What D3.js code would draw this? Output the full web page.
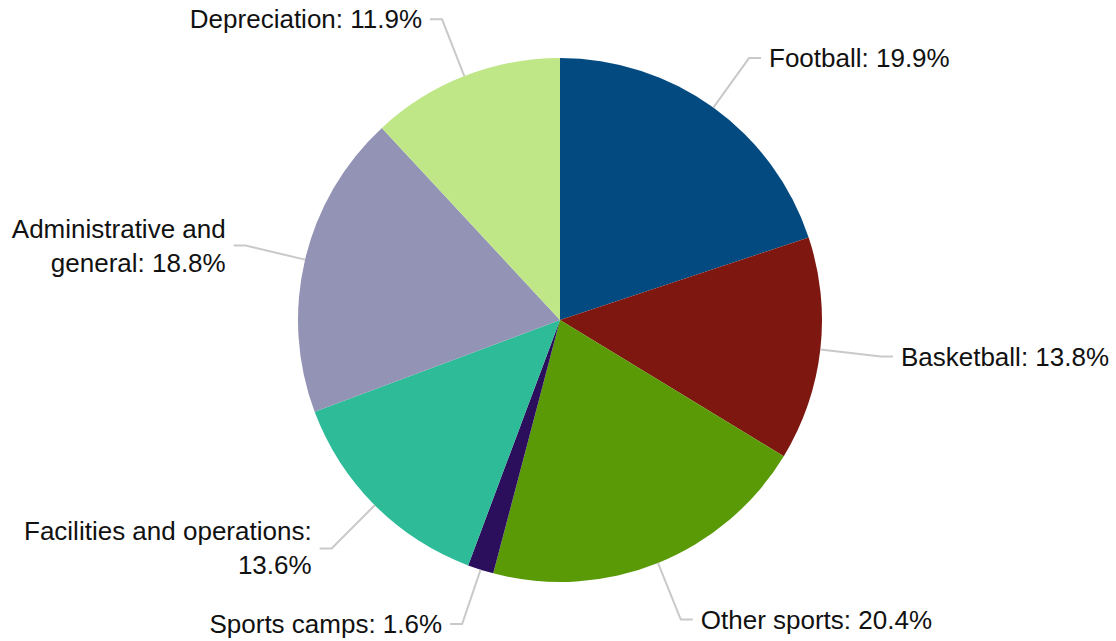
<!DOCTYPE html>
<html>
<head>
<meta charset="utf-8">
<script src="https://cdn.jsdelivr.net/npm/d3@7"></script>
<style>
  body { margin: 0; background: #fff; }
  svg text { font-family: "Liberation Sans", Arial, sans-serif; font-size: 26px; fill: #111; }
</style>
</head>
<body>
<div id="chart"></div>
<script>
const width = 1116;
const height = 641;
const radius = 262;
const cx = 560;
const cy = 320;

const categories = ["Football", "Basketball", "Other sports", "Sports camps",
  "Facilities and operations", "Administrative and general", "Depreciation"];
const values = [19.9, 13.8, 20.4, 1.6, 13.6, 18.8, 11.9];
const colors = ["#024a7f", "#7e1710", "#5a9a07", "#2b0f5d", "#2ebb97", "#9393b6", "#bfe787"];

const data = categories.map((name, i) => ({ name: name, value: values[i], color: colors[i] }));

const svg = d3.select("#chart").append("svg")
  .attr("width", width)
  .attr("height", height);

const pie = d3.pie().value((d) => d.value).sort(null);
const arc = d3.arc().innerRadius(0).outerRadius(radius);
const arcs = pie(data);

const g = svg.append("g").attr("transform", `translate(${cx},${cy})`);

g.selectAll("path")
  .data(arcs)
  .join("path")
  .attr("fill", (d) => d.data.color)
  .attr("d", arc);

// leader lines + labels
const elbowR = 323;
const tail = 12;
const gap = 8;
const lineH = 34;

arcs.forEach((d) => {
  const a = (d.startAngle + d.endAngle) / 2;
  const sx = Math.sin(a), sy = -Math.cos(a);
  const right = sx >= 0;
  const p0 = [sx * radius, sy * radius];
  const p1 = [sx * elbowR, sy * elbowR];
  // keep label inside the picture
  p1[1] = Math.max(-cy + 16, Math.min(height - cy - 17, p1[1]));
  const p2 = [p1[0] + (right ? tail : -tail), p1[1]];

  g.append("path")
    .attr("d", d3.line()([p0, p1, p2]))
    .attr("fill", "none")
    .attr("stroke", "#c9c9c9")
    .attr("stroke-width", 2);

  const tx = p2[0] + (right ? gap : -gap);
  const avail = right ? (width - cx - tx - 4) : (cx + tx - 4);
  const label = `${d.data.name}: ${d.data.value}%`;

  // wrap words to available width
  const text = g.append("text")
    .attr("text-anchor", right ? "start" : "end");
  const words = label.split(" ");
  const lines = [];
  let cur = [];
  const probe = text.append("tspan");
  words.forEach((w) => {
    cur.push(w);
    probe.text(cur.join(" "));
    if (probe.node().getComputedTextLength() > avail && cur.length > 1) {
      cur.pop();
      lines.push(cur.join(" "));
      cur = [w];
    }
  });
  lines.push(cur.join(" "));
  probe.remove();

  const y0 = p1[1] - (lines.length - 1) * lineH / 2;
  lines.forEach((ln, i) => {
    text.append("tspan")
      .attr("x", tx)
      .attr("y", y0 + i * lineH)
      .attr("dy", "0.35em")
      .text(ln);
  });
});
</script>
</body>
</html>
